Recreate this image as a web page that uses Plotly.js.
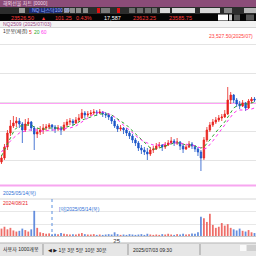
<!DOCTYPE html>
<html><head><meta charset="utf-8">
<script src="https://cdn.plot.ly/plotly-3.0.1.min.js"></script>
<style>html,body{margin:0;padding:0;background:#fff;}#chart{width:256px;height:256px;}</style>
</head><body><div id="chart"></div>
<script>
// ---- data ----
const openP = [22980,23020,23130,23270,23340,23370,23390,23360,23300,23360,
  23380,23320,23260,23280,23300,23320,23330,23350,23330,23310,
  23320,23300,23350,23380,23390,23370,23400,23420,23470,23450,
  23460,23470,23480,23470,23480,23460,23450,23430,23390,23340,
  23310,23320,23300,23270,23240,23200,23170,23120,23100,23080,
  23060,23100,23110,23140,23150,23130,23150,23170,23190,23170,
  23180,23140,23110,23130,23160,23140,23110,23080,23020,23200,
  23300,23350,23380,23400,23420,23430,23460,23600,23650,23600,
  23560,23540,23570,23520,23590,23610];
const highP = [23050,23160,23300,23400,23440,23430,23420,23380,23410,23420,
  23390,23340,23320,23340,23360,23360,23370,23360,23350,23350,
  23340,23380,23410,23420,23410,23430,23460,23510,23490,23490,
  23500,23510,23500,23510,23490,23480,23470,23440,23410,23360,
  23350,23330,23320,23290,23260,23220,23190,23150,23130,23120,
  23130,23140,23170,23180,23160,23180,23200,23230,23210,23220,
  23190,23160,23160,23190,23180,23150,23130,23100,23230,23330,
  23380,23410,23430,23450,23460,23500,23730,23680,23660,23620,
  23590,23600,23580,23610,23630,23630];
const lowP = [22960,23000,23100,23240,23320,23330,23320,23170,23280,23340,
  23290,23100,23220,23250,23260,23290,23310,23290,23270,23290,
  23250,23290,23330,23350,23340,23360,23380,23410,23420,23430,
  23440,23450,23440,23460,23430,23420,23400,23360,23320,23280,
  23290,23260,23240,23210,23170,23140,23090,23060,23050,23000,
  23040,23070,23100,23120,23090,23110,23140,23160,23140,23150,
  23100,23070,23100,23120,23110,23080,23040,22890,23000,23180,
  23280,23330,23360,23380,23390,23420,23450,23560,23570,23530,
  23510,23530,23490,23510,23570,23580];
const closeP = [23020,23130,23270,23340,23370,23390,23360,23300,23360,23380,
  23320,23260,23280,23300,23320,23330,23350,23330,23310,23320,
  23300,23350,23380,23390,23370,23400,23420,23470,23450,23460,
  23470,23480,23470,23480,23460,23450,23430,23390,23340,23310,
  23320,23300,23270,23240,23200,23170,23120,23100,23080,23060,
  23100,23110,23140,23150,23130,23150,23170,23190,23170,23180,
  23140,23110,23130,23160,23140,23110,23080,23020,23200,23300,
  23350,23380,23400,23420,23430,23460,23600,23650,23600,23560,
  23540,23570,23520,23590,23610,23600];
const ma20 = [23040,23100,23170,23230,23280,23320,23340,23340,23350,23350,
  23350,23330,23320,23310,23310,23310,23320,23320,23320,23320,
  23320,23320,23330,23340,23350,23360,23380,23400,23410,23420,
  23430,23440,23450,23460,23460,23460,23460,23450,23430,23410,
  23390,23370,23350,23320,23290,23260,23230,23200,23170,23140,
  23120,23110,23110,23120,23130,23140,23150,23160,23170,23170,
  23170,23160,23150,23150,23150,23140,23130,23120,23130,23160,
  23200,23240,23280,23320,23350,23380,23430,23480,23520,23540,
  23550,23560,23560,23560,23570,23580];
const ma60 = [23080,23120,23160,23190,23220,23250,23270,23280,23290,23300,
  23300,23300,23300,23290,23290,23290,23300,23300,23300,23310,
  23310,23310,23320,23320,23330,23340,23360,23380,23400,23420,
  23440,23460,23470,23480,23480,23470,23460,23450,23430,23400,
  23370,23340,23320,23300,23270,23240,23220,23200,23180,23170,
  23160,23150,23150,23150,23150,23160,23160,23170,23170,23170,
  23170,23160,23160,23150,23150,23140,23130,23120,23110,23120,
  23150,23190,23230,23270,23310,23340,23380,23430,23470,23490,
  23500,23500,23500,23510,23510,23520];
const volume = [20,25,18,22,15,12,14,20,16,12,
  18,68,22,10,8,6,7,5,6,5,
  8,6,5,4,5,4,6,8,5,4,
  4,5,3,4,3,4,5,4,10,5,
  3,4,3,5,4,3,4,5,3,6,
  4,3,4,3,5,4,6,4,3,5,
  4,6,4,5,7,6,10,52,48,38,
  60,30,22,25,35,28,32,22,18,15,
  20,14,12,16,10,8];
const priceLine = [23570];
const priceGrid = [23000,23290,23580,23870,24160];
const volGrid = [32,65];
const timeTickPos = [38.7];
const timeTickText = ["25"];

// ---- chart ----
const idx = closeP.map((_, i) => i);
const UP = '#e8231e', DN = '#1d55c9';
const volColors = closeP.map((c, i) => c >= openP[i] ? '#ea4a44' : '#3f73d6');
const X = px => px / 256, Y = py => 1 - py / 256;
const F = 'Liberation Sans, DejaVu Sans, Noto Sans CJK KR';

const traces = [
  {type:'candlestick', x: idx, open: openP, high: highP, low: lowP, close: closeP,
   xaxis:'x', yaxis:'y',
   increasing:{line:{color:UP, width:0.8}, fillcolor:UP},
   decreasing:{line:{color:DN, width:0.8}, fillcolor:DN},
   whiskerwidth:0, hoverinfo:'skip', showlegend:false},
  {type:'scatter', mode:'lines', x: idx, y: ma20, xaxis:'x', yaxis:'y',
   line:{color:'#2aa52a', width:1, dash:'dot'}, hoverinfo:'skip', showlegend:false},
  {type:'scatter', mode:'lines', x: idx, y: ma60, xaxis:'x', yaxis:'y',
   line:{color:'#ff33ee', width:1, dash:'dot'}, hoverinfo:'skip', showlegend:false},
  {type:'bar', x: idx, y: volume, xaxis:'x2', yaxis:'y2',
   marker:{color: volColors, line:{width:0}}, opacity:0.8, width:0.6,
   hoverinfo:'skip', showlegend:false}
];

const shapes = [];
function rect(x0,y0,x1,y1,fill){ shapes.push({type:'rect',xref:'paper',yref:'paper',x0:X(x0),x1:X(x1),y0:Y(y1),y1:Y(y0),fillcolor:fill,line:{width:0},layer:'above'}); }
function hline(y,x0,x1,color,w,dash){ shapes.push({type:'line',xref:'paper',yref:'paper',x0:X(x0),x1:X(x1),y0:Y(y),y1:Y(y),line:{color:color,width:w||1,dash:dash||'solid'},layer:'above'}); }
function vline(x,y0,y1,color,w,dash){ shapes.push({type:'line',xref:'paper',yref:'paper',x0:X(x),x1:X(x),y0:Y(y0),y1:Y(y1),line:{color:color,width:w||1,dash:dash||'solid'},layer:'above'}); }

// header
rect(0,0,256,7,'#8b4c78');
rect(0,7,256,14,'#2c2c2c');
rect(0,14,256,21,'#050505');
rect(0,21,256,27,'#f3f3f3');
hline(27.5,0,256,'#d4d4d4',1);
// toolbar buttons
rect(19,8,25,13,'#9c9c9c');
rect(29,8,62,13,'#1e2d74');
rect(64,8,69,13,'#8d8d8d'); rect(70,8,75,13,'#8d8d8d'); rect(76,8,81,13,'#8d8d8d');
rect(83,8,88,13,'#8d8d8d'); rect(97,8,100,13,'#d11');
rect(101,8,110,13,'#7a7a7a'); rect(117,8,120,13,'#d11');
rect(129,8,135,13,'#6e6e6e'); rect(137,8,143,13,'#6e6e6e'); rect(145,8,151,13,'#6e6e6e'); rect(152,8,157,13,'#6e6e6e');
rect(160,8,170,13,'#d8d8d8'); rect(172,8,195,13,'#d8d8d8'); rect(200,8,220,13,'#d8d8d8');
rect(224,8,232,13,'#888'); rect(244,8,256,13,'#b8b8b8');
rect(218,14.5,228,20.5,'#ffffff'); rect(229,14.5,232,20.5,'#cfcfcf');
rect(234,14.5,240,20.5,'#555'); rect(246,14.5,254,20.5,'#555');

// main price panel
priceLine.forEach(v => shapes.push({type:'line',xref:'paper',yref:'y',x0:0,x1:1,y0:v,y1:v,line:{color:'#ff44ee',width:1},layer:'below'}));
rect(0,184.5,256,186.5,'#f7a6f0');
// volume panel
hline(199,0,256,'#d6d6d6',1);
vline(52,199,236,'#5b8fe0',1,'dot');
hline(236.5,0,256,'#c8c8c8',1);
// bottom bar
rect(0,243,256,256,'#e6e6e6');
hline(243,0,256,'#b5b5b5',1);
vline(43,244,255,'#999',1); vline(128,244,255,'#999',1); vline(200,244,255,'#999',1);
rect(240,245,246,251,'#fafafa'); rect(247,245,256,251,'#cfcfcf');

const annotations = [];
function txt(x,y,t,color,size,anchor){ annotations.push({xref:'paper',yref:'paper',x:X(x),y:Y(y),text:t,showarrow:false,xanchor:anchor||'left',yanchor:'middle',font:{family:F,size:size||6,color:color}}); }
txt(1,3.5,'해외선물 차트 [0000]','#f3dde9',5);
txt(30,10.5,'NQ 나스닥100 09','#9fb3ff',5);
txt(9,17.5,'23526.50','#ff3b3b',5.5);
txt(39,17.5,'▲','#ff3b3b',5);
txt(53,17.5,'101.25','#ff3b3b',5.5);
txt(74,17.5,'0.43%','#ff3b3b',5.5);
txt(102,17.5,'17,587','#ffffff',5.5);
txt(131,17.5,'23623.25','#ff3b3b',5.5);
txt(167,17.5,'23585.75','#ff3b3b',5.5);
txt(1,24.3,'NQ2509 (2025/07/03)','#9b4a8a',5);
txt(1,31.5,'1분봉(체결)','#333',5);
txt(27,31.5,'5','#e8231e',5); txt(32,31.5,'20','#2aa52a',5); txt(39,31.5,'60','#ff33ee',5);
txt(255,36,'23,527.50(2025/07)','#ff3b3b',5,'right');
txt(1,193.5,'2025/05/14(목)','#2f6fd6',5);
txt(1,203,'2024/08/21','#e8231e',5);
txt(57,209,'[약]2025/05/14(목)','#2f6fd6',5);
txt(1,249.5,'사용자 1000개봉','#222',5);
txt(46,249.5,'◀ ▶ 1분 3분 5분 10분 30분','#222',5);
txt(131,249.5,'2025/07/03 09:30','#222',5);

const layout = {
  width:256, height:256, margin:{l:0,r:0,t:0,b:0},
  paper_bgcolor:'#ffffff', plot_bgcolor:'#ffffff',
  showlegend:false, bargap:0.2,
  xaxis:{domain:[0,1], range:[-0.5,85.5], showticklabels:false, showgrid:false, zeroline:false, rangeslider:{visible:false}, fixedrange:true},
  yaxis:{domain:[Y(185),Y(28)], range:[22750,24320], tickvals:priceGrid, showticklabels:false, showgrid:true, gridcolor:'#e4e4e4', gridwidth:1, zeroline:false},
  xaxis2:{domain:[0,1], anchor:'y2', range:[-0.5,85.5], tickvals:timeTickPos, ticktext:timeTickText, ticks:'', tickfont:{family:F,size:6,color:'#222'}, showgrid:false, zeroline:false, showline:false},
  yaxis2:{domain:[Y(236),Y(199)], range:[0,100], tickvals:volGrid, showticklabels:false, showgrid:true, gridcolor:'#e8e8e8', zeroline:false},
  shapes: shapes, annotations: annotations
};
Plotly.newPlot('chart', traces, layout, {staticPlot:true, displayModeBar:false});
</script>
</body></html>
